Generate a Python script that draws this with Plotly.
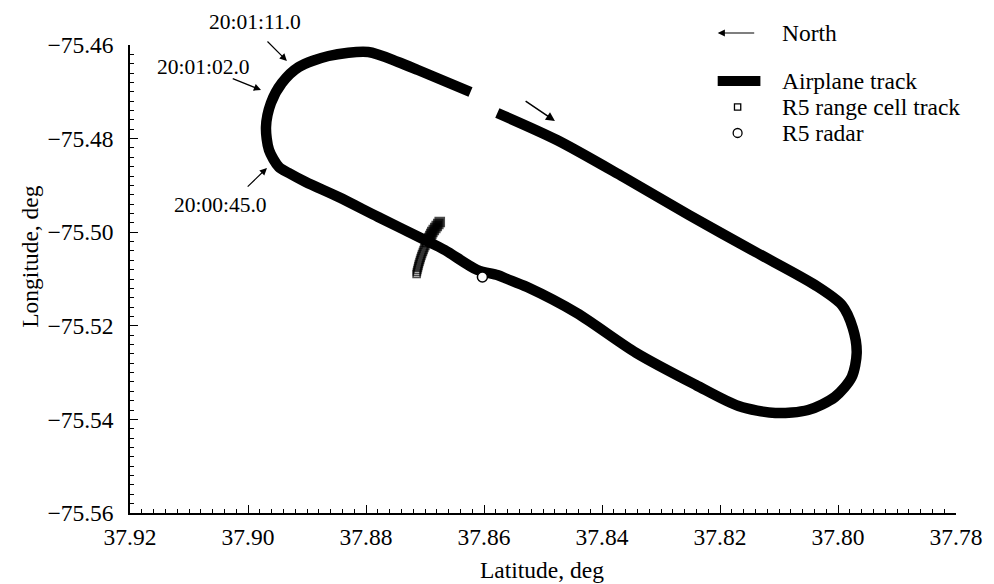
import plotly.graph_objects as go

# Airplane track (latitude, longitude in degrees), one lap in flight order
track_lat = [37.85774, 37.84765, 37.83637, 37.82527, 37.81399, 37.80390, 37.79935,
             37.79750, 37.79683, 37.79767, 37.80053, 37.80507, 37.81063, 37.81685,
             37.82409, 37.83418, 37.84428, 37.85269, 37.85606, 37.85774, 37.86111,
             37.86666, 37.87002, 37.87793, 37.88466, 37.89022, 37.89308, 37.89476,
             37.89644, 37.89695, 37.89611, 37.89426, 37.89139, 37.88635, 37.87962,
             37.87457, 37.87120, 37.86229]
track_lon = [-75.47453, -75.48030, -75.48821, -75.49632, -75.50423, -75.51128, -75.51556,
             -75.52047, -75.52581, -75.53094, -75.53521, -75.53799, -75.53863, -75.53714,
             -75.53265, -75.52581, -75.51726, -75.51171, -75.51000, -75.50915, -75.50808,
             -75.50380, -75.50167, -75.49675, -75.49248, -75.48927, -75.48735, -75.48607,
             -75.48244, -75.47752, -75.47239, -75.46812, -75.46470, -75.46235, -75.46150,
             -75.46363, -75.46534, -75.47004]

# R5 range cell track
cell_lat = [37.86750, 37.86775, 37.86801, 37.86826, 37.86851, 37.86876, 37.86893,
            37.86910, 37.86927, 37.86944, 37.86960, 37.86977, 37.86994, 37.87011,
            37.87024, 37.87036, 37.87050, 37.87061, 37.87073, 37.87083, 37.87093,
            37.87104, 37.87112, 37.87120, 37.87129, 37.87137, 37.87142]
cell_lon = [-75.49782, -75.49825, -75.49868, -75.49910, -75.49953, -75.49996, -75.50038,
            -75.50081, -75.50124, -75.50167, -75.50209, -75.50252, -75.50295, -75.50338,
            -75.50380, -75.50423, -75.50466, -75.50509, -75.50551, -75.50594, -75.50637,
            -75.50679, -75.50722, -75.50765, -75.50808, -75.50850, -75.50893]

# R5 radar location
radar_lat = [37.86027]
radar_lon = [-75.50957]

# Time marks: label, arrow head (lat, lon), arrow tail (lat, lon), label centre (paper x, y)
time_marks = [
    ("20:01:11.0", (37.89341, -75.46342), (37.89695, -75.45893), (0.1514, 1.0491)),
    ("20:01:02.0", (37.89779, -75.46962), (37.90284, -75.46705), (0.0889, 0.9530)),
    ("20:00:45.0", (37.89678, -75.48628), (37.90031, -75.49056), (0.1094, 0.6581)),
]

# Flight direction arrow (head, tail)
dir_head = (37.84798, -75.47624)
dir_tail = (37.85320, -75.47175)

x_range = [37.92, 37.78]
y_range = [-75.56, -75.46]

FONT = "Liberation Serif, Times New Roman, serif"
FS = 23.5
FS_TIME = 21.5

fig = go.Figure()

fig.add_trace(go.Scatter(
    x=track_lat, y=track_lon, mode="lines", name="Airplane track",
    line=dict(color="black", width=10.5, shape="spline", smoothing=0.8),
    showlegend=False,
))

# upper part of the cell track is densely overlapped (solid), lower part shows open squares
n_cells = len(cell_lat)
cell_sizes = [9 if i < 11 else 7 for i in range(n_cells)]
cell_symbols = ["square" if i < 9 else "square-open" for i in range(n_cells)]
fig.add_trace(go.Scatter(
    x=cell_lat, y=cell_lon, mode="markers", name="R5 range cell track",
    marker=dict(symbol=cell_symbols, size=cell_sizes, color="black",
                line=dict(width=1.6, color="black")),
    showlegend=False,
))

fig.add_trace(go.Scatter(
    x=radar_lat, y=radar_lon, mode="markers", name="R5 radar",
    marker=dict(symbol="circle", size=10, color="white", line=dict(color="black", width=1.5)),
    showlegend=False,
))

annotations = []
for label, head, tail, txt in time_marks:
    annotations.append(dict(
        x=head[0], y=head[1], ax=tail[0], ay=tail[1], axref="x", ayref="y",
        xref="x", yref="y", text="", showarrow=True,
        arrowhead=2, arrowsize=1.2, arrowwidth=1.2, arrowcolor="black",
    ))
    annotations.append(dict(
        x=txt[0], y=txt[1], xref="paper", yref="paper", text=label, showarrow=False,
        xanchor="center", yanchor="middle",
        font=dict(family=FONT, size=FS_TIME, color="black"),
    ))

annotations.append(dict(
    x=dir_head[0], y=dir_head[1], ax=dir_tail[0], ay=dir_tail[1], axref="x", ayref="y",
    xref="x", yref="y", text="", showarrow=True,
    arrowhead=2, arrowsize=1.2, arrowwidth=1.5, arrowcolor="black",
))

# Legend block (paper coordinates)
annotations.append(dict(
    x=0.7115, y=1.0256, ax=38, ay=0, axref="pixel", ayref="pixel",
    xref="paper", yref="paper", text="", showarrow=True,
    arrowhead=2, arrowsize=1.2, arrowwidth=1.2, arrowcolor="black",
))
legend_rows = [("North", 1.0256), ("Airplane track", 0.9231),
               ("R5 range cell track", 0.8675), ("R5 radar", 0.8120)]
for txt, yy in legend_rows:
    annotations.append(dict(
        x=0.7873, y=yy, xref="paper", yref="paper", text=txt, showarrow=False,
        xanchor="left", yanchor="middle", font=dict(family=FONT, size=FS, color="black"),
    ))

# Axis titles
annotations.append(dict(
    x=0.4993, y=-0.1218, xref="paper", yref="paper", text="Latitude, deg", showarrow=False,
    xanchor="center", yanchor="middle", font=dict(family=FONT, size=FS, color="black"),
))
annotations.append(dict(
    x=-0.1214, y=0.5491, xref="paper", yref="paper", text="Longitude, deg", showarrow=False,
    textangle=-90, xanchor="center", yanchor="middle",
    font=dict(family=FONT, size=FS, color="black"),
))

shapes = [
    dict(type="line", xref="paper", yref="paper", x0=0.7115, x1=0.7632, y0=0.9231, y1=0.9231,
         line=dict(color="black", width=10)),
    dict(type="rect", xref="paper", yref="paper", x0=0.7356 - 0.0038, x1=0.7356 + 0.0038,
         y0=0.8675 - 0.0068, y1=0.8675 + 0.0068, line=dict(color="black", width=1.3)),
    dict(type="circle", xref="paper", yref="paper", x0=0.7356 - 0.0054, x1=0.7356 + 0.0054,
         y0=0.8120 - 0.0096, y1=0.8120 + 0.0096, line=dict(color="black", width=1.3)),
]

axis_common = dict(
    showline=True, linecolor="black", linewidth=1.5, mirror=False,
    ticks="inside", ticklen=8, tickwidth=1.2, tickcolor="black",
    showgrid=False, zeroline=False, tickformat=".2f",
    tickfont=dict(family=FONT, size=FS, color="black"),
)

fig.update_layout(
    width=994, height=584,
    margin=dict(l=130, r=32, t=45, b=71),
    paper_bgcolor="white", plot_bgcolor="white",
    xaxis=dict(range=x_range, dtick=0.02, tick0=37.78, ticklabelstandoff=2,
               minor=dict(dtick=0.002, ticks="inside", ticklen=4, tickcolor="black", tickwidth=1),
               **axis_common),
    yaxis=dict(range=y_range, dtick=0.02, tick0=-75.56, ticklabelstandoff=10,
               minor=dict(dtick=0.002, ticks="inside", ticklen=4, tickcolor="black", tickwidth=1),
               **axis_common),
    annotations=annotations,
    shapes=shapes,
    showlegend=False,
)

fig.write_html("out.html")
